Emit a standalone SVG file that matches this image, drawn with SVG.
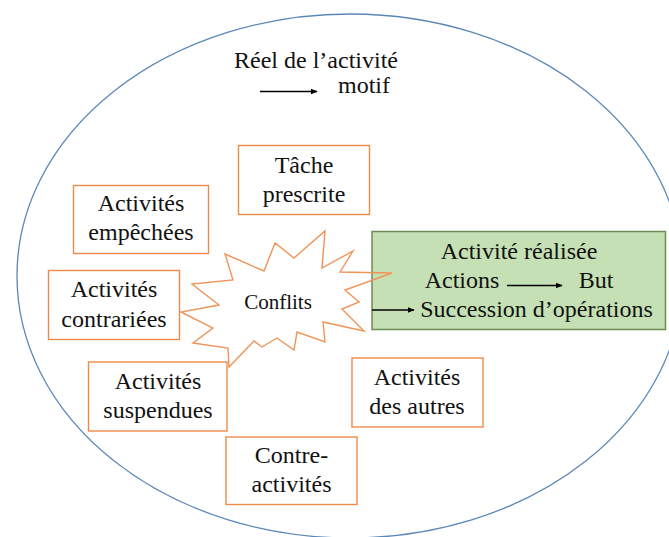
<svg xmlns="http://www.w3.org/2000/svg" width="669" height="537" viewBox="0 0 669 537">
<defs>
<style>
text{font-family:"Liberation Serif","Times New Roman",serif;font-size:24px;fill:#111;text-anchor:middle}
.small{font-size:21px}
.box{fill:#fff;stroke:#EE8A4A;stroke-width:1.4}
.green{fill:#C5E0B4;stroke:#6E8C55;stroke-width:1.5}
.conn{stroke:#000;stroke-width:1.3;fill:none;marker-end:url(#ah)}
</style>
<marker id="ah" viewBox="0 0 10 10" refX="9" refY="5" markerWidth="7" markerHeight="7" markerUnits="userSpaceOnUse" orient="auto">
<path d="M0,1 L10,5 L0,9 z" fill="#000"/>
</marker>
</defs>
<rect width="669" height="537" fill="#fff"/>
<g id="frame">
<ellipse cx="350" cy="276" rx="333" ry="262" fill="none" stroke="#5B87B8" stroke-width="1.3"/>
<text x="316" y="68">Réel de l’activité</text>
<text x="364" y="93">motif</text>
</g>
<g id="tache">
<rect class="box" x="238.5" y="145.5" width="131" height="69"/>
<text x="304" y="173">Tâche</text>
<text x="304" y="202">prescrite</text>
</g>
<g id="empechees">
<rect class="box" x="73.5" y="185.5" width="135" height="68"/>
<text x="141" y="211">Activités</text>
<text x="141" y="240">empêchées</text>
</g>
<g id="contrariees">
<rect class="box" x="48.5" y="270.5" width="131" height="69"/>
<text x="114" y="297">Activités</text>
<text x="114" y="327">contrariées</text>
</g>
<g id="suspendues">
<rect class="box" x="88.5" y="362" width="138.5" height="69"/>
<text x="158" y="389">Activités</text>
<text x="158" y="418">suspendues</text>
</g>
<g id="autres">
<rect class="box" x="352" y="358" width="131" height="69"/>
<text x="417" y="385">Activités</text>
<text x="417" y="414">des autres</text>
</g>
<g id="contre">
<rect class="box" x="226" y="437" width="131" height="67.5"/>
<text x="291.5" y="463">Contre-</text>
<text x="291.5" y="492">activités</text>
</g>
<g id="realisee">
<rect class="green" x="372" y="231.5" width="293.5" height="98"/>
<text x="519" y="259">Activité réalisée</text>
<text x="462" y="288">Actions</text>
<text x="596" y="288">But</text>
<text x="536.5" y="317">Succession d’opérations</text>
</g>
<g id="conflits">
<polygon points="325,231 322,268 353,251 340,272 392,273 345,290 359,302 342,309 364,331 323,322 325,342 297,332 294,350 277,338 262,347 254,341 229,367 228,348 193,343 213,328 181,312 219,305 192,284 233,280 225,254 264,271 275,243 294,258" fill="none" stroke="#F0945A" stroke-width="1.4" stroke-linejoin="miter"/>
<text class="small" x="278" y="309">Conflits</text>
</g>
<g id="connectors">
<line class="conn" x1="260" y1="91.5" x2="317" y2="91.5"/>
<line class="conn" x1="507" y1="285.5" x2="562" y2="285.5"/>
<line class="conn" x1="372" y1="310" x2="414" y2="310"/>
</g>
</svg>
